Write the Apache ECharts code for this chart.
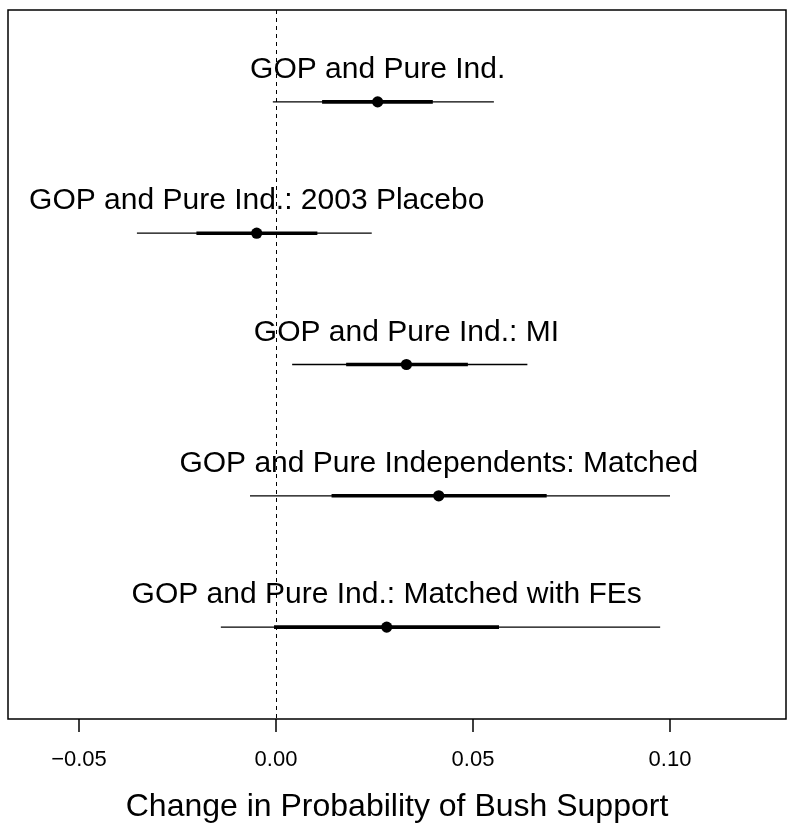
<!DOCTYPE html>
<html>
<head>
<meta charset="utf-8">
<script src="https://cdn.jsdelivr.net/npm/echarts@6/dist/echarts.min.js"></script>
<style>html,body{margin:0;padding:0;background:#fff;}#c{width:788px;height:827px;}</style>
</head>
<body>
<div id="c"></div>
<script>
// Model labels (top to bottom)
const models = [
  "GOP and Pure Ind.",
  "GOP and Pure Ind.: 2003 Placebo",
  "GOP and Pure Ind.: MI",
  "GOP and Pure Independents: Matched",
  "GOP and Pure Ind.: Matched with FEs"
];
// Point estimates
const estimates = [0.0258, -0.0049, 0.0331, 0.0413, 0.0281];
// Outer (thin) interval
const outerLow  = [-0.0008, -0.0353, 0.0041, -0.0066, -0.0140];
const outerHigh = [ 0.0553,  0.0243, 0.0638,  0.1000,  0.0975];
// Inner (thick) interval
const innerLow  = [ 0.0117, -0.0202, 0.0178,  0.0141, -0.0005];
const innerHigh = [ 0.0398,  0.0105, 0.0487,  0.0687,  0.0566];
// Tick values
const tickValues = [-0.05, 0, 0.05, 0.10];
const xTitle = "Change in Probability of Bush Support";

const data = models.map((m, i) => [i + 1, estimates[i], outerLow[i], outerHigh[i], innerLow[i], innerHigh[i]]);

const chart = echarts.init(document.getElementById('c'), null, {renderer: 'canvas'});
const FONT = '"Liberation Sans", Arial, Helvetica, sans-serif';

chart.setOption({
  animation: false,
  backgroundColor: '#fff',
  grid: {left: 8, right: 2, top: 10, bottom: 108, containLabel: false, outerBoundsMode: 'none',
         show: true, borderColor: '#000', borderWidth: 1.5, backgroundColor: 'transparent'},
  xAxis: {
    type: 'value', min: -0.06802, max: 0.12944,
    axisLine: {show: false},
    splitLine: {show: false},
    axisTick: {show: true, customValues: tickValues, length: 13, inside: false, lineStyle: {color: '#000', width: 1.5}},
    axisLabel: {
      show: true, customValues: tickValues, margin: 30, color: '#000', fontSize: 22, fontFamily: FONT,
      formatter: v => (v < 0 ? '\u2212' + Math.abs(v).toFixed(2) : v.toFixed(2))
    },
    name: xTitle, nameLocation: 'middle', nameGap: 72,
    nameTextStyle: {color: '#000', fontSize: 32, fontFamily: FONT}
  },
  yAxis: {type: 'value', min: 0.3, max: 5.7, inverse: true, show: false},
  series: [
    {
      type: 'line', data: [], symbol: 'none',
      markLine: {
        silent: true, symbol: 'none', label: {show: false},
        lineStyle: {color: '#000', width: 1, type: [4, 4]},
        data: [{xAxis: 0}]
      }
    },
    {
      type: 'custom',
      data: data,
      encode: {x: [1, 2, 3, 4, 5], y: 0},
      renderItem: function (params, api) {
        const row = api.value(0);
        const est = api.coord([api.value(1), row]);
        const oL = api.coord([api.value(2), row]);
        const oH = api.coord([api.value(3), row]);
        const iL = api.coord([api.value(4), row]);
        const iH = api.coord([api.value(5), row]);
        return {
          type: 'group',
          children: [
            {type: 'line', shape: {x1: oL[0], y1: oL[1], x2: oH[0], y2: oH[1]}, style: {stroke: '#000', lineWidth: 1.3}},
            {type: 'line', shape: {x1: iL[0], y1: iL[1], x2: iH[0], y2: iH[1]}, style: {stroke: '#000', lineWidth: 3.6}},
            {type: 'circle', shape: {cx: est[0], cy: est[1], r: 5.6}, style: {fill: '#000'}},
            {type: 'text', style: {text: models[params.dataIndex], x: est[0], y: est[1] - 32, align: 'center', verticalAlign: 'middle', fill: '#000', font: '30px ' + FONT}}
          ]
        };
      }
    }
  ]
});
</script>
</body>
</html>
